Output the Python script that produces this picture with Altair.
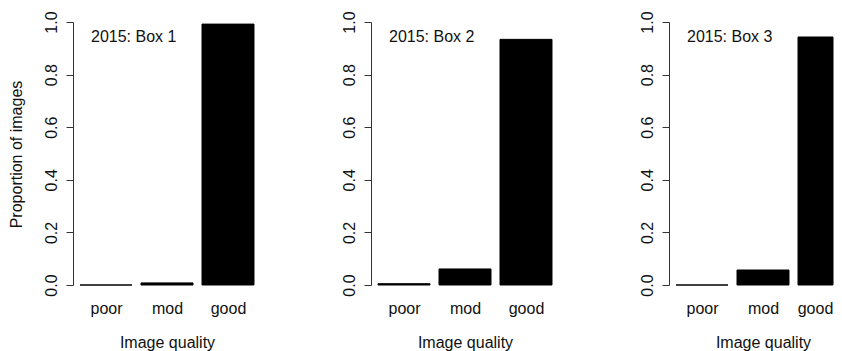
import json
import altair as alt
import pandas as pd

categories = ["poor", "mod", "good"]
box_titles = ["2015: Box 1", "2015: Box 2", "2015: Box 3"]
box1 = [0.0, 0.008, 0.992]
box2 = [0.005, 0.061, 0.934]
box3 = [0.0, 0.057, 0.943]
y_ticks = [0.0, 0.2, 0.4, 0.6, 0.8, 1.0]

FONT = "Liberation Sans"
FS = 16
STEP = 61.0          # px per category slot
BAR_HALF = 0.426     # half bar width in category units
X_LO = -0.541        # left edge of plot in category units
PLOT_W = 188
PLOT_H = 263

label_expr = json.dumps(categories) + "[datum.value]"


def panel(values, label, show_title, width):
    idx = list(range(len(categories)))
    df = pd.DataFrame({"quality": categories, "prop": values, "i": idx})
    df["x0"] = df["i"] - BAR_HALF
    df["x1"] = df["i"] + BAR_HALF
    df["base"] = 0.0
    x_hi = X_LO + width / STEP
    xscale = alt.Scale(domain=[X_LO, x_hi], nice=False, zero=False, clamp=True)

    y_axis_args = dict(
        values=y_ticks, format=".1f", grid=False,
        labelAngle=270, labelAlign="center", labelBaseline="alphabetic",
        labelPadding=10, tickSize=7, tickColor="#333", domainColor="#333",
        labelFont=FONT, labelFontSize=FS, labelColor="#111",
        minExtent=65, maxExtent=65,
    )
    if show_title:
        y_axis_args.update(
            titleFont=FONT, titleFontSize=FS,
            titleFontWeight="normal", titleColor="#111", titleAngle=270,
            titleX=-52, titleY=132, titleAlign="center", titleBaseline="alphabetic",
        )
    y_enc = alt.Y(
        "prop:Q",
        scale=alt.Scale(domain=[0, 1], nice=False, zero=True),
        axis=alt.Axis(**y_axis_args),
        title="Proportion of images" if show_title else None,
    )
    x_enc = alt.X(
        "x0:Q", scale=xscale,
        title="Image quality",
        axis=alt.Axis(
            values=idx, labelExpr=label_expr,
            labelAngle=0, domain=False, ticks=False, grid=False, labelPadding=15,
            labelFont=FONT, labelFontSize=FS, labelColor="#111",
            labelOffset={"condition": {"test": "datum.value == 2 && %d < 180" % width,
                                       "value": -9}, "value": 0},
            titleFont=FONT, titleFontSize=FS, titleFontWeight="normal",
            titleColor="#111", titleX=94, titleY=62, titleAlign="center",
            titleBaseline="alphabetic",
        ),
    )
    bars = alt.Chart(df).mark_rect(
        color="black", stroke="black", strokeWidth=1
    ).encode(x=x_enc, x2="x1:Q", y=y_enc, y2="base:Q")
    txt = alt.Chart(pd.DataFrame({"t": [label]})).mark_text(
        align="left", baseline="middle", font=FONT, fontSize=FS, color="#111"
    ).encode(x=alt.value(18), y=alt.datum(0.943), text="t:N")
    return alt.layer(bars, txt).properties(width=width, height=PLOT_H)


p1 = panel(box1, box_titles[0], True, PLOT_W)
p2 = panel(box2, box_titles[1], False, PLOT_W)
p3 = panel(box3, box_titles[2], False, 164)

chart = alt.hconcat(p1, p2, p3, spacing=45).properties(
    padding={"top": 2, "left": 0, "right": 0, "bottom": 6},
    background="white",
).configure_view(stroke=None)

chart.save("out.html", embed_options={"renderer": "svg", "actions": False})
